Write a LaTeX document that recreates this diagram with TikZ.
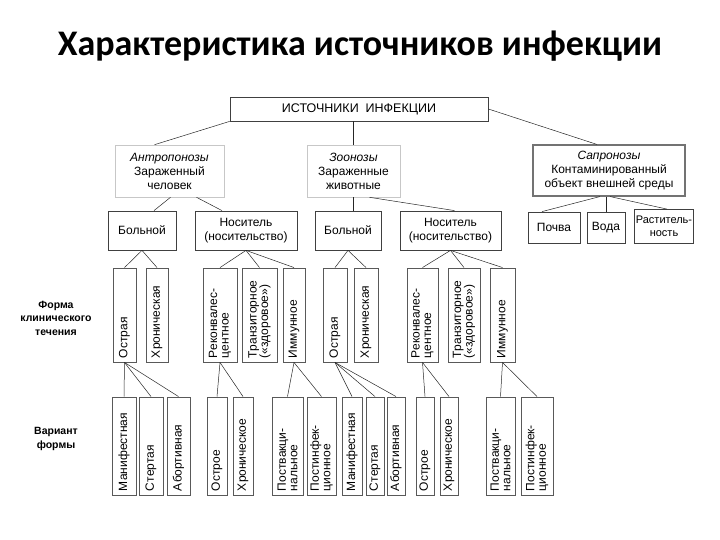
\documentclass[tikz,border=0pt]{standalone}
\usepackage{fontspec}
\setmainfont{Liberation Sans}
\newfontfamily\titlefont{Carlito}

\begin{document}
\begin{tikzpicture}[x=1pt,y=-1pt,
	box/.style={draw=black!75,line width=0.8pt,fill=white,align=center,inner sep=1pt,font=\fontsize{12}{14}\selectfont},
	softbox/.style={box,draw=black!22,line width=0.6pt},
	sapbox/.style={box,draw=black!55,line width=1.1pt},
	% rotated boxes: east = top, west = bottom
	vbox/.style={draw=black!65,line width=0.9pt,fill=white,rotate=90,align=left,inner xsep=4pt,inner ysep=1pt,font=\fontsize{12}{11.5}\selectfont},
	link/.style={draw=black!85,line width=0.5pt},
	lbl/.style={align=center,font=\bfseries\fontsize{10.5}{13.5}\selectfont}]
	\useasboundingbox (0,0) rectangle (720,540);

	\node[font=\titlefont\bfseries\fontsize{36}{42}\selectfont] (title) at (360,46) {Характеристика источников инфекции};

	\node[box,minimum width=258pt,minimum height=24pt,font=\fontsize{12.5}{14}\selectfont] (src) at (359,109) {ИСТОЧНИКИ\ \ ИНФЕКЦИИ};

	\node[softbox,minimum width=109pt,minimum height=52pt] (ant) at (169.5,171) {\textit{Антропонозы}\\Зараженный\\человек};
	\node[softbox,minimum width=93pt,minimum height=52pt] (zoo) at (353.5,171) {\textit{Зоонозы}\\Зараженные\\животные};
	\node[sapbox,minimum width=152pt,minimum height=51pt] (sap) at (609,170.5) {\textit{Сапронозы}\\Контаминированный\\объект внешней среды};

	\node[box,minimum width=68pt,minimum height=39pt] (b1) at (142,230.5) {Больной};
	\node[box,minimum width=102pt,minimum height=39pt] (n1) at (246,230.5) {Носитель\\(носительство)};
	\node[box,minimum width=66pt,minimum height=39pt] (b2) at (348,230.5) {Больной};
	\node[box,minimum width=101pt,minimum height=39pt] (n2) at (450.5,230.5) {Носитель\\(носительство)};
	\node[box,minimum width=52pt,minimum height=31pt] (soil) at (554,227.5) {Почва};
	\node[box,minimum width=38pt,minimum height=31pt] (water) at (606,227.5) {Вода};
	\node[box,minimum width=56pt,minimum height=34pt,font=\fontsize{11}{13}\selectfont] (plant) at (664,226.5) {Раститель-\\ность};

	\node[lbl] (forma) at (56,318) {Форма\\клинического\\течения};
	\node[lbl] (variant) at (56,439) {Вариант\\формы};

	% форма клинического течения
	\node[vbox,text width=86pt,minimum height=23pt] (a1) at (124.5,315) {Острая};
	\node[vbox,text width=86pt,minimum height=22pt] (c1) at (157,315) {Хроническая};
	\node[vbox,text width=86pt,minimum height=34pt] (r1) at (220,315) {Реконвалес-\\центное};
	\node[vbox,text width=86pt,minimum height=35pt] (t1) at (259.5,315) {Транзиторное\\(«здоровое»)};
	\node[vbox,text width=86pt,minimum height=22pt] (i1) at (294,315) {Иммунное};
	\node[vbox,text width=86pt,minimum height=24pt] (a2) at (335,315) {Острая};
	\node[vbox,text width=86pt,minimum height=24pt] (c2) at (366,315) {Хроническая};
	\node[vbox,text width=86pt,minimum height=31pt] (r2) at (422.5,315) {Реконвалес-\\центное};
	\node[vbox,text width=86pt,minimum height=32pt] (t2) at (464,315) {Транзиторное\\(«здоровое»)};
	\node[vbox,text width=86pt,minimum height=25pt] (i2) at (502.5,315) {Иммунное};

	% вариант формы
	\node[vbox,text width=90pt,minimum height=24pt] (m1) at (124,446) {Манифестная};
	\node[vbox,text width=90pt,minimum height=24pt] (s1) at (151,446) {Стертая};
	\node[vbox,text width=90pt,minimum height=23pt] (ab1) at (178.5,446) {Абортивная};
	\node[vbox,text width=90pt,minimum height=20pt] (o1) at (217,446) {Острое};
	\node[vbox,text width=90pt,minimum height=20pt] (h1) at (243,446) {Хроническое};
	\node[vbox,text width=90pt,minimum height=31pt] (pv1) at (287.5,446) {Поствакци-\\нальное};
	\node[vbox,text width=90pt,minimum height=29pt] (pi1) at (321.5,446) {Постинфек-\\ционное};
	\node[vbox,text width=90pt,minimum height=20pt] (m2) at (352,446) {Манифестная};
	\node[vbox,text width=90pt,minimum height=18pt] (s2) at (375,446) {Стертая};
	\node[vbox,text width=90pt,minimum height=18pt] (ab2) at (396,446) {Абортивная};
	\node[vbox,text width=90pt,minimum height=18pt] (o2) at (425,446) {Острое};
	\node[vbox,text width=90pt,minimum height=18pt] (h2) at (449,446) {Хроническое};
	\node[vbox,text width=90pt,minimum height=29pt] (pv2) at (500.5,446) {Поствакци-\\нальное};
	\node[vbox,text width=90pt,minimum height=32pt] (pi2) at (537,446) {Постинфек-\\ционное};

	% connectors
	\draw[link] (src.south west) -- ([xshift=-15pt]ant.north);
	\draw[link] (zoo.north |- src.south) -- (zoo.north);
	\draw[link] (src.east) -- ([xshift=-12pt]sap.north);

	\draw[link] ([xshift=1pt]ant.south) -- ([xshift=12pt]b1.north);
	\draw[link] ([xshift=27pt]ant.south) -- ([xshift=-24pt]n1.north);
	\draw[link] (zoo.south) -- (zoo.south |- b2.north);
	\draw[link] ([xshift=16pt]zoo.south) -- ([xshift=4pt]n2.north);
	\draw[link] ([xshift=-9pt]sap.south) -- ([xshift=-12pt]soil.north);
	\draw[link] (water.north |- sap.south) -- (water.north);
	\draw[link] ([xshift=1pt]sap.south) -- ([xshift=3pt]plant.north);

	\foreach \p/\c in {b1/a1,b1/c1,n1/r1,n1/t1,n1/i1,b2/a2,b2/c2,n2/r2,n2/t2,n2/i2}
		\draw[link] (\p.south) -- (\c.east);
	\foreach \p/\c in {a1/m1,a1/s1,a1/ab1,r1/o1,r1/h1,i1/pv1,i1/pi1,a2/m2,a2/s2,a2/ab2,r2/o2,r2/h2,i2/pv2,i2/pi2}
		\draw[link] (\p.west) -- (\c.east);
\end{tikzpicture}
\end{document}
